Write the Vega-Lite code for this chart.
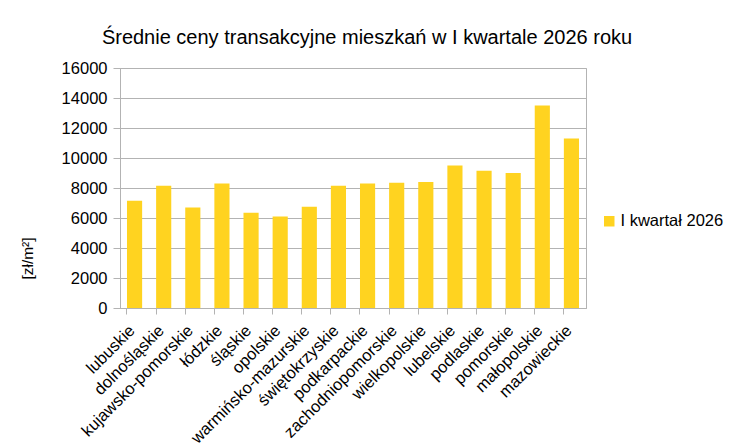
{
  "$schema": "https://vega.github.io/schema/vega-lite/v6.json",
  "autosize": {"type": "none"},
  "padding": {"left": 120, "top": 68, "right": 153, "bottom": 139},
  "width": 466,
  "height": 240,
  "background": "white",
  "title": {
    "text": "Średnie ceny transakcyjne mieszkań w I kwartale 2026 roku",
    "font": "Liberation Sans",
    "fontSize": 20,
    "fontWeight": "normal",
    "color": "#000000",
    "anchor": "middle",
    "baseline": "alphabetic",
    "offset": -4,
    "dx": 14
  },
  "config": {
    "view": {"stroke": "#b3b3b3"},
    "font": "Liberation Sans"
  },
  "data": {
    "values": [
      {"region": "lubuskie", "price": 7150, "series": "I kwartał 2026"},
      {"region": "dolnośląskie", "price": 8150, "series": "I kwartał 2026"},
      {"region": "kujawsko-pomorskie", "price": 6700, "series": "I kwartał 2026"},
      {"region": "łódzkie", "price": 8300, "series": "I kwartał 2026"},
      {"region": "śląskie", "price": 6350, "series": "I kwartał 2026"},
      {"region": "opolskie", "price": 6100, "series": "I kwartał 2026"},
      {"region": "warmińsko-mazurskie", "price": 6750, "series": "I kwartał 2026"},
      {"region": "świętokrzyskie", "price": 8150, "series": "I kwartał 2026"},
      {"region": "podkarpackie", "price": 8300, "series": "I kwartał 2026"},
      {"region": "zachodniopomorskie", "price": 8350, "series": "I kwartał 2026"},
      {"region": "wielkopolskie", "price": 8400, "series": "I kwartał 2026"},
      {"region": "lubelskie", "price": 9500, "series": "I kwartał 2026"},
      {"region": "podlaskie", "price": 9150, "series": "I kwartał 2026"},
      {"region": "pomorskie", "price": 9000, "series": "I kwartał 2026"},
      {"region": "małopolskie", "price": 13500, "series": "I kwartał 2026"},
      {"region": "mazowieckie", "price": 11300, "series": "I kwartał 2026"}
    ]
  },
  "mark": {"type": "bar"},
  "encoding": {
    "x": {
      "field": "region",
      "type": "nominal",
      "sort": null,
      "scale": {"paddingInner": 0.48, "paddingOuter": 0.24},
      "axis": {
        "title": null,
        "bandPosition": 0,
        "labelAngle": -45,
        "labelFontSize": 16.5,
        "labelColor": "#000000",
        "labelPadding": 8,
        "labelOffset": -8,
        "domainColor": "#b3b3b3",
        "tickColor": "#b3b3b3",
        "tickSize": 6,
        "grid": false
      }
    },
    "y": {
      "field": "price",
      "type": "quantitative",
      "scale": {"domain": [0, 16000], "nice": false},
      "axis": {
        "title": "[zł/m²]",
        "titleFontSize": 15.5,
        "titleFontWeight": "normal",
        "titleColor": "#000000",
        "titleY": 190,
        "titleX": -85,
        "values": [0, 2000, 4000, 6000, 8000, 10000, 12000, 14000, 16000],
        "format": "d",
        "labelFontSize": 16.5,
        "labelColor": "#000000",
        "labelPadding": 6,
        "tickSize": 7,
        "tickColor": "#b3b3b3",
        "domainColor": "#b3b3b3",
        "gridColor": "#b3b3b3",
        "gridOpacity": 1
      }
    },
    "color": {
      "field": "series",
      "type": "nominal",
      "scale": {"range": ["#ffd320"]},
      "legend": {
        "title": null,
        "orient": "none",
        "legendX": 481,
        "legendY": 145,
        "symbolType": "square",
        "symbolSize": 110,
        "symbolStrokeWidth": 0,
        "labelFontSize": 16.5,
        "labelColor": "#000000",
        "labelOffset": 3
      }
    }
  }
}
